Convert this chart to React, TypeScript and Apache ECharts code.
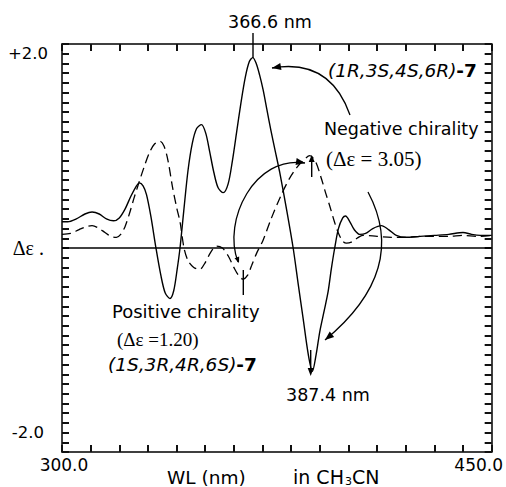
import React, { useEffect, useRef } from 'react';
import * as echarts from 'echarts';

// Solid curve: (1R,3S,4S,6R)-7
const solidWL = [300,302,305,308,310.5,313,315.5,318,320,322,324,325.8,327,328.3,329.5,331,332.8,334.5,336,337.7,339,340.2,341.2,342.5,344,345.5,347,348.7,350.2,351.5,353,354.5,356.3,358,359.5,361,362.5,364,365.4,366.6,367.8,369,370.2,371.5,373,374.5,376,378.5,380.7,382.5,384.2,386,387.4,388.7,390,391.5,392.9,394,395.2,396.5,398,399,400.5,402,404,406,408.5,411.5,414,416.7,420,425,430,435,440,443,446,450];
const solidDE = [0.27,0.27,0.30,0.35,0.37,0.35,0.30,0.28,0.31,0.40,0.53,0.63,0.67,0.64,0.55,0.33,0.0,-0.28,-0.46,-0.52,-0.44,-0.22,0.0,0.38,0.80,1.08,1.23,1.27,1.18,1.0,0.78,0.62,0.57,0.66,0.9,1.2,1.5,1.76,1.92,1.96,1.9,1.78,1.63,1.43,1.2,0.99,0.78,0.38,0.0,-0.38,-0.73,-1.1,-1.27,-1.1,-0.86,-0.65,-0.45,-0.22,0.0,0.2,0.31,0.33,0.27,0.19,0.14,0.15,0.2,0.23,0.19,0.13,0.11,0.12,0.13,0.14,0.16,0.14,0.13,0.13];

// Dashed curve: (1S,3R,4R,6S)-7
const dashWL = [300,303,306,308.5,310.5,312.5,315,317,319,320.5,322,323.5,325,326.5,328.5,330.5,332.3,334.2,335.6,337,338.5,340,341.2,342.6,344,346,348.1,350,352,354,356,358,360,361.8,363.2,364.8,366.2,368,370.2,373,376.6,379.5,382,384.5,386.5,388.5,390.6,392,393.5,395,396.4,398,399.3,401,403,405,410,415,420,425,430,435,440,445,450];
const dashDE = [0.14,0.15,0.19,0.22,0.23,0.21,0.16,0.12,0.11,0.14,0.22,0.35,0.5,0.64,0.82,0.98,1.07,1.10,1.05,0.9,0.64,0.42,0.27,0.0,-0.13,-0.2,-0.22,-0.15,-0.04,0.02,0.0,-0.08,-0.2,-0.29,-0.32,-0.28,-0.18,-0.05,0.08,0.3,0.55,0.72,0.83,0.91,0.95,0.89,0.71,0.57,0.43,0.28,0.16,0.07,0.05,0.06,0.1,0.13,0.12,0.11,0.11,0.12,0.12,0.12,0.13,0.12,0.13];

const X_MIN = 300, X_MAX = 450, X_STEP = 10;
const Y_MIN = -2.1, Y_MAX = 2.1, Y_STEP = 0.1;
const xTickLabels: Record<number, string> = { 300: '{a|300.0}', 450: '{b|450.0}' };
const yTickLabels = [
  { v: 2, text: '+2.0' },
  { v: 0, text: '{d|Δε .}' },
  { v: -2, text: '{m|-2.0}' },
];

const SANS = "'DejaVu Sans', sans-serif";
const SERIF = "'Liberation Serif', serif";

function head(tx: number, ty: number, dx: number, dy: number, L = 9, W = 3.5) {
  const n = Math.hypot(dx, dy);
  const ux = dx / n, uy = dy / n;
  const bx = tx - ux * L, by = ty - uy * L;
  return {
    type: 'polygon',
    shape: { points: [[tx, ty], [bx - uy * W, by + ux * W], [bx + uy * W, by - ux * W]] },
    style: { fill: '#000' },
  };
}
const curveStyle = { stroke: '#000', lineWidth: 1.3, fill: null };
function seg(x1: number, y1: number, x2: number, y2: number, w = 1.4) {
  return { type: 'line', shape: { x1, y1, x2, y2 }, style: { stroke: '#000', lineWidth: w } };
}
function txt(x: number, y: number, text: string, extra: any = {}) {
  return {
    type: 'text', x, y,
    style: { text, fontFamily: SANS, fontSize: 17.5, fill: '#000', align: 'left', verticalAlign: 'middle', ...extra },
  };
}

export default function App() {
  const ref = useRef<HTMLDivElement>(null);
  useEffect(() => {
    const chart = echarts.init(ref.current!, null, { renderer: 'svg' });
    const mkAxis = () => ({
      type: 'value',
      axisLine: { show: true, onZero: false, lineStyle: { color: '#000', width: 1.5 } },
      axisTick: { show: true, inside: true, length: 7, lineStyle: { color: '#111', width: 2 } },
      splitLine: { show: false },
    });
    const fmtY = (v: number) => {
      const hit = yTickLabels.find((t) => Math.abs(t.v - v) < 1e-6);
      return hit ? hit.text : '';
    };
    const fmtX = (v: number) => {
      const k = Math.round(v);
      return Math.abs(k - v) < 1e-6 && xTickLabels[k] ? xTickLabels[k] : '';
    };
    const richItalic = {
      i: { fontFamily: SANS, fontSize: 18.5, fontStyle: 'italic', fill: '#000' },
      b: { fontFamily: SANS, fontSize: 18.5, fontWeight: 'bold', fill: '#000' },
    };
    const option: any = {
      animation: false,
      grid: { left: 62, right: 14, top: 44, bottom: 35 },
      xAxis: [
        {
          ...mkAxis(), position: 'bottom', min: X_MIN, max: X_MAX, interval: X_STEP,
          axisLabel: {
            show: true, interval: 0, formatter: fmtX, margin: 4, color: '#000', fontFamily: SANS, fontSize: 17,
            showMinLabel: true, showMaxLabel: true, hideOverlap: false,
            rich: {
              a: { padding: [0, 0, 0, 4], fontFamily: SANS, fontSize: 17, color: '#000' },
              b: { padding: [0, 26, 0, 0], fontFamily: SANS, fontSize: 17, color: '#000' },
            },
          },
        },
        { ...mkAxis(), position: 'top', min: X_MIN, max: X_MAX, interval: X_STEP, axisLabel: { show: false } },
      ],
      yAxis: [
        {
          ...mkAxis(), position: 'left', min: Y_MIN, max: Y_MAX, interval: Y_STEP,
          axisLabel: {
            show: true, interval: 0, formatter: fmtY, margin: 14, color: '#000', fontFamily: SANS, fontSize: 16.5,
            showMinLabel: true, showMaxLabel: true, hideOverlap: false,
            rich: {
              d: { fontFamily: SERIF, fontSize: 20, color: '#000', padding: [0, 4, 0, 0] },
              m: { fontFamily: SANS, fontSize: 16.5, color: '#000', padding: [0, 4, 20, 0] },
            },
          },
        },
        { ...mkAxis(), position: 'right', min: Y_MIN, max: Y_MAX, interval: Y_STEP, axisLabel: { show: false } },
      ],
      series: [
        {
          type: 'line', name: '(1R,3S,4S,6R)-7',
          data: solidWL.map((x, i) => [x, solidDE[i]]),
          showSymbol: false, smooth: 0.3,
          lineStyle: { color: '#000', width: 1.4, type: 'solid' },
          z: 3,
          markLine: {
            silent: true, symbol: ['none', 'none'], label: { show: false },
            lineStyle: { color: '#000', width: 1.6, type: 'solid' },
            data: [{ yAxis: 0 }],
          },
        },
        {
          type: 'line', name: '(1S,3R,4R,6S)-7',
          data: dashWL.map((x, i) => [x, dashDE[i]]),
          showSymbol: false, smooth: 0.3,
          lineStyle: { color: '#000', width: 1.3, type: [9, 5] },
          z: 3,
        },
      ],
      graphic: [
        // arcs
        { type: 'bezierCurve', shape: { x1: 272, y1: 68, x2: 350, y2: 115, cpx1: 330, cpy1: 58 }, style: curveStyle },
        head(272, 68, -58, 10),
        { type: 'bezierCurve', shape: { x1: 368, y1: 192, x2: 325, y2: 340, cpx1: 409.5, cpy1: 270 }, style: curveStyle },
        head(325, 340, -84.5, 70),
        { type: 'bezierCurve', shape: { x1: 238, y1: 262, x2: 305, y2: 163, cpx1: 222, cpy1: 220, cpx2: 255, cpy2: 155 }, style: curveStyle },
        head(305, 163, 50, 8),
        head(239, 263, 16, 42, 6, 2.5),
        // markers
        seg(253, 33, 253, 58),
        seg(311.7, 157, 311.7, 177),
        head(311.7, 155, 0, -1, 7, 3),
        seg(243.3, 270, 243.3, 295),
        seg(310.7, 350, 310.7, 372),
        head(310.7, 376, 0, 1, 8, 3),
        // texts
        txt(228, 22, '366.6 nm'),
        txt(328, 70, '{i|(1R,3S,4S,6R)}{b|-7}', { rich: richItalic }),
        txt(323, 129, 'Negative chirality', { backgroundColor: '#fff', padding: [2, 1] }),
        txt(325, 159, '(Δε = 3.05)', { fontFamily: SERIF, fontSize: 21, backgroundColor: '#fff', padding: [2, 1] }),
        txt(112, 311, 'Positive chirality', { fontSize: 18 }),
        txt(117, 339, '(Δε =1.20)', { fontFamily: SERIF, fontSize: 19 }),
        txt(108, 364, '{i|(1S,3R,4R,6S)}{b|-7}', { rich: richItalic }),
        txt(286, 395, '387.4 nm'),
        txt(167, 477, 'WL (nm)', { fontSize: 18.5 }),
        txt(293, 477, 'in CH', { fontSize: 19 }),
        txt(345, 481, '3', { fontSize: 11 }),
        txt(352, 477, 'CN', { fontSize: 19 }),
      ],
    };
    chart.setOption(option);
    return () => chart.dispose();
  }, []);
  return <div ref={ref} style={{ position: 'absolute', left: 0, top: 0, width: 506, height: 487 }} />;
}
